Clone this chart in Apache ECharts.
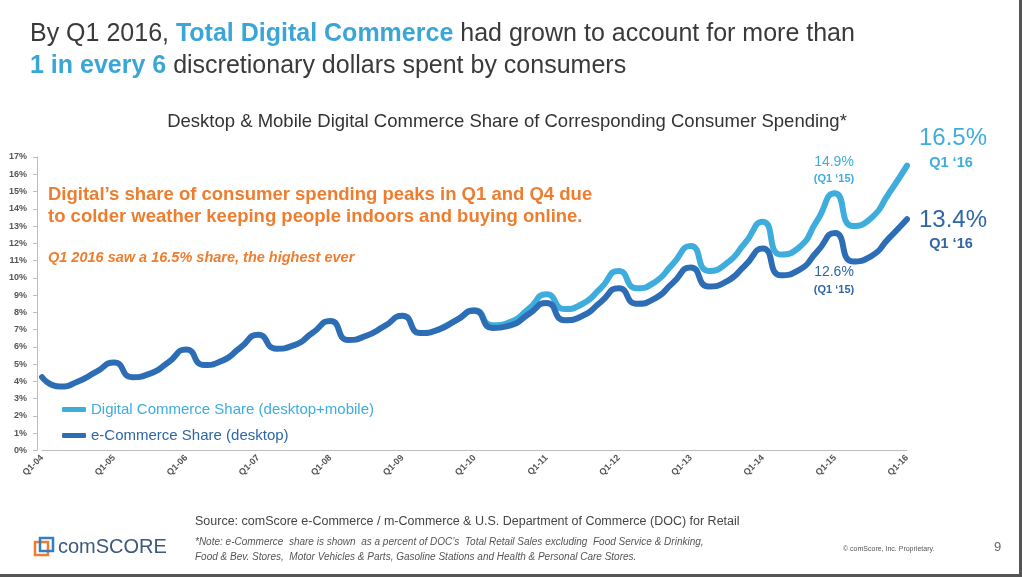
<!DOCTYPE html>
<html>
<head>
<meta charset="utf-8">
<script src="https://cdn.jsdelivr.net/npm/echarts@6/dist/echarts.min.js"></script>
<style>
html,body{margin:0;padding:0;background:#fff;}
#c{width:1022px;height:577px;}
</style>
</head>
<body>
<div id="c"></div>
<script>
// ---- data ----
const years = ['04','05','06','07','08','09','10','11','12','13','14','15','16'];
const quarters = ['Q1','Q2','Q3','Q4'];
const yTicks = [0,1,2,3,4,5,6,7,8,9,10,11,12,13,14,15,16,17];

// e-Commerce Share (desktop), % — Q1-04 .. Q1-16
const desktopShare = [
  4.25, 3.7, 4.0, 4.55,
  5.1, 4.25, 4.45, 5.1,
  5.85, 4.95, 5.2, 5.95,
  6.7, 5.9, 6.1, 6.8,
  7.5, 6.4, 6.65, 7.2,
  7.8, 6.8, 7.0, 7.55,
  8.1, 7.1, 7.25, 7.9,
  8.55, 7.55, 7.8, 8.6,
  9.4, 8.5, 8.8, 9.7,
  10.6, 9.5, 9.8, 10.7,
  11.7, 10.15, 10.45, 11.5,
  12.6, 10.95, 11.25, 12.3,
  13.4
];
// Digital Commerce Share (desktop+mobile), % — visible from 2009 onwards
const digitalShare = [
  null, null, null, null,
  null, null, null, null,
  null, null, null, null,
  null, null, null, null,
  null, null, null, null,
  null, null, 7.0, 7.55,
  8.12, 7.25, 7.45, 8.2,
  9.05, 8.2, 8.5, 9.4,
  10.4, 9.4, 9.75, 10.8,
  11.85, 10.4, 10.85, 12.0,
  13.25, 11.35, 11.75, 13.3,
  14.9, 13.0, 13.45, 14.9,
  16.5
];
const seriesNames = ['Digital Commerce Share (desktop+mobile)', 'e-Commerce Share (desktop)'];

// categories built from the tick label arrays
const categories = [];
years.forEach((y, i) => {
  quarters.forEach(q => {
    if (i < years.length - 1 || q === 'Q1') categories.push(q + '-' + y);
  });
});

const LIGHT = '#3eaddd';
const DARK = '#2d6db5';
const DARKTXT = '#2f66a6';
const ORANGE = '#ee7d2e';
const FONT = '"Liberation Sans", Arial, sans-serif';

const chart = echarts.init(document.getElementById('c'), null, {renderer: 'canvas'});

chart.setOption({
  backgroundColor: '#ffffff',
  animation: false,
  textStyle: {fontFamily: FONT},
  grid: {left: 42, right: 115, top: 157, bottom: 126.5, containLabel: false},
  legend: {
    orient: 'vertical',
    left: 57,
    top: 397,
    itemGap: 11,
    itemWidth: 24,
    itemHeight: 5,
    icon: 'roundRect',
    selectedMode: false,
    textStyle: {fontSize: 15, fontFamily: FONT},
    data: [
      {name: seriesNames[0], textStyle: {color: LIGHT}},
      {name: seriesNames[1], textStyle: {color: DARKTXT}}
    ]
  },
  xAxis: {
    type: 'category',
    data: categories,
    boundaryGap: false,
    axisLine: {lineStyle: {color: '#bdbdbd', width: 1}},
    axisTick: {show: false},
    axisLabel: {
      interval: 3,
      rotate: 45,
      fontSize: 9,
      fontWeight: 'bold',
      color: '#555',
      margin: 6
    },
    splitLine: {show: false}
  },
  yAxis: {
    type: 'value',
    min: yTicks[0],
    max: yTicks[yTicks.length - 1],
    interval: 1,
    offset: 5,
    axisLine: {show: true, lineStyle: {color: '#bdbdbd', width: 1}},
    axisTick: {show: true, length: 4, lineStyle: {color: '#bdbdbd'}},
    axisLabel: {formatter: '{value}%', fontSize: 9, fontWeight: 'bold', color: '#555', margin: 10},
    splitLine: {show: false}
  },
  series: [
    {
      name: seriesNames[0],
      type: 'line',
      data: digitalShare,
      smooth: 0.6,
      showSymbol: false,
      symbol: 'none',
      connectNulls: false,
      lineStyle: {color: LIGHT, width: 6, cap: 'round', join: 'round'},
      itemStyle: {color: LIGHT},
      z: 2
    },
    {
      name: seriesNames[1],
      type: 'line',
      data: desktopShare,
      smooth: 0.6,
      showSymbol: false,
      symbol: 'none',
      lineStyle: {color: DARK, width: 6, cap: 'round', join: 'round'},
      itemStyle: {color: DARK},
      z: 3
    }
  ],
  graphic: [
    // Title
    {type: 'text', left: 30, top: 22, style: {
      text: '{a|By Q1 2016, }{b|Total Digital Commerce}{a| had grown to account for more than}',
      rich: {
        a: {fontSize: 25, fontFamily: FONT, fill: '#3a3a3a', color: '#3a3a3a'},
        b: {fontSize: 25, fontFamily: FONT, fontWeight: 'bold', fill: '#3aa6d8', color: '#3aa6d8'}
      }
    }},
    {type: 'text', left: 30, top: 54, style: {
      text: '{b|1 in every 6}{a| discretionary dollars spent by consumers}',
      rich: {
        a: {fontSize: 25, fontFamily: FONT, fill: '#3a3a3a', color: '#3a3a3a'},
        b: {fontSize: 25, fontFamily: FONT, fontWeight: 'bold', fill: '#3aa6d8', color: '#3aa6d8'}
      }
    }},
    // Chart subtitle
    {type: 'text', x: 507, y: 122, style: {
      text: 'Desktop & Mobile Digital Commerce Share of Corresponding Consumer Spending*',
      font: '18.5px ' + FONT, fill: '#333', align: 'center', verticalAlign: 'middle'
    }},
    // Orange callouts
    {type: 'text', left: 48, top: 184, style: {
      text: 'Digital\u2019s share of consumer spending peaks in Q1 and Q4 due\nto colder weather keeping people indoors and buying online.',
      font: 'bold 18.5px ' + FONT, fill: ORANGE, lineHeight: 22
    }},
    {type: 'text', left: 48, top: 250, style: {
      text: 'Q1 2016 saw a 16.5% share, the highest ever',
      font: 'italic bold 14.5px ' + FONT, fill: ORANGE
    }},
    // Q1 '15 annotations
    {type: 'text', x: 834, y: 162, style: {text: '14.9%', font: '14px ' + FONT, fill: LIGHT, align: 'center', verticalAlign: 'middle'}},
    {type: 'text', x: 834, y: 179, style: {text: '(Q1 \u201815)', font: 'bold 11px ' + FONT, fill: LIGHT, align: 'center', verticalAlign: 'middle'}},
    {type: 'text', x: 834, y: 272, style: {text: '12.6%', font: '14px ' + FONT, fill: DARKTXT, align: 'center', verticalAlign: 'middle'}},
    {type: 'text', x: 834, y: 290, style: {text: '(Q1 \u201815)', font: 'bold 11px ' + FONT, fill: DARKTXT, align: 'center', verticalAlign: 'middle'}},
    // Q1 '16 annotations
    {type: 'text', x: 953, y: 138, style: {text: '16.5%', font: '24px ' + FONT, fill: LIGHT, align: 'center', verticalAlign: 'middle'}},
    {type: 'text', x: 951, y: 163, style: {text: 'Q1 \u201816', font: 'bold 14.5px ' + FONT, fill: LIGHT, align: 'center', verticalAlign: 'middle'}},
    {type: 'text', x: 953, y: 220, style: {text: '13.4%', font: '24px ' + FONT, fill: DARKTXT, align: 'center', verticalAlign: 'middle'}},
    {type: 'text', x: 951, y: 244, style: {text: 'Q1 \u201816', font: 'bold 14.5px ' + FONT, fill: DARKTXT, align: 'center', verticalAlign: 'middle'}},
    // Footer
    {type: 'text', left: 195, top: 515, style: {
      text: 'Source: comScore e-Commerce / m-Commerce & U.S. Department of Commerce (DOC) for Retail',
      font: '12.5px ' + FONT, fill: '#444'
    }},
    {type: 'text', left: 195, top: 535, style: {
      text: '*Note: e-Commerce  share is shown  as a percent of DOC\u2019s  Total Retail Sales excluding  Food Service & Drinking,\nFood & Bev. Stores,  Motor Vehicles & Parts, Gasoline Stations and Health & Personal Care Stores.',
      font: 'italic 10px ' + FONT, fill: '#555', lineHeight: 15
    }},
    {type: 'text', left: 843, top: 546, style: {text: '\u00A9 comScore, Inc. Proprietary.', font: '7px ' + FONT, fill: '#555'}},
    {type: 'text', left: 994, top: 541, style: {text: '9', font: '13px ' + FONT, fill: '#666'}},
    // comScore logo
    {type: 'rect', shape: {x: 35, y: 542, width: 13, height: 13}, style: {fill: 'none', stroke: '#ee7d2e', lineWidth: 2.5}},
    {type: 'rect', shape: {x: 40, y: 538, width: 13, height: 13}, style: {fill: 'none', stroke: '#2f7fc1', lineWidth: 2.5}},
    {type: 'text', left: 58, top: 537, style: {
      text: '{s|com}{b|SCORE}',
      rich: {
        s: {fontSize: 20, fontFamily: FONT, fill: '#3b5a7d', color: '#3b5a7d'},
        b: {fontSize: 20, fontFamily: FONT, fill: '#3b5a7d', color: '#3b5a7d'}
      }
    }},
    // screen frame edges
    {type: 'rect', shape: {x: 1019, y: 0, width: 3, height: 577}, style: {fill: '#555'}},
    {type: 'rect', shape: {x: 0, y: 574, width: 1022, height: 3}, style: {fill: '#555'}}
  ]
});
</script>
</body>
</html>
